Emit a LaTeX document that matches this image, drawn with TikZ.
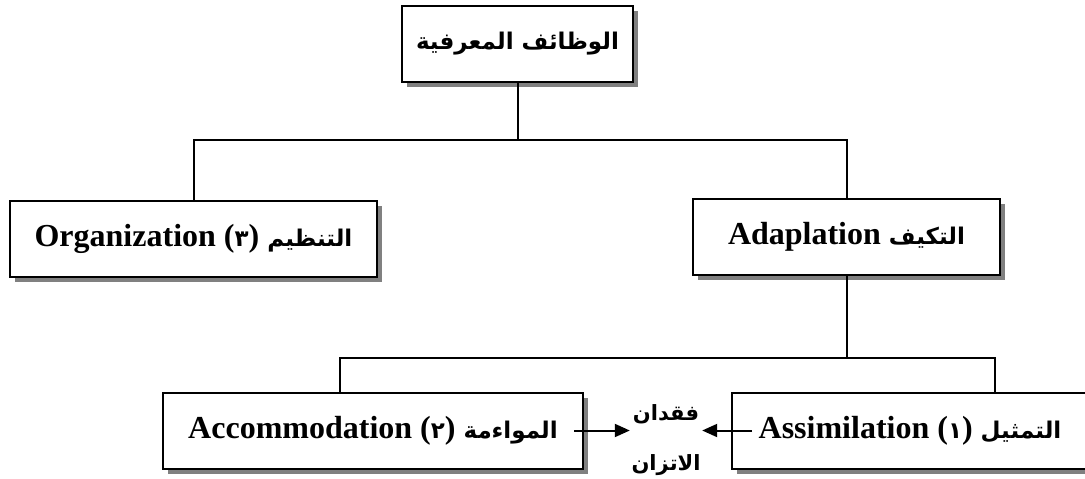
\documentclass[tikz,border=0pt]{standalone}
\usepackage{fontspec}
\setmainfont{Liberation Serif}
\newfontfamily\arabicfont[Script=Arabic]{DejaVu Sans}
\TeXXeTstate=1
\usetikzlibrary{arrows.meta,calc,shadows}
\newcommand{\arb}[1]{{\arabicfont\fontsize{23}{26}\selectfont\beginR #1\endR}}
\newcommand{\arbs}[1]{{\arabicfont\fontsize{21}{24}\selectfont\beginR #1\endR}}
\tikzset{
  box/.style={draw, line width=2pt, fill=white, minimum height=76pt, inner sep=0pt,
    font=\bfseries\fontsize{32}{36}\selectfont,
    drop shadow={shadow xshift=5pt, shadow yshift=-5pt, fill=black!50, opacity=1}},
  link/.style={line width=2pt},
  arr/.style={line width=2pt, -{Triangle[length=15pt,width=13pt]}},
  baltext/.style={font=\bfseries, align=center, inner sep=0pt, minimum width=72pt}
}
\begin{document}
\begin{tikzpicture}[x=1pt,y=-1pt]
\useasboundingbox (0,0) rectangle (1085,479);
\node[box, minimum width=231pt] (top) at (517.5,43.5) {\arb{الوظائف المعرفية}};
\node[box, minimum width=367pt] (org) at (193.5,238.5) {Organization (\arb{٣}) \arb{التنظيم}};
\node[box, minimum width=307pt] (ada) at (846.5,236.5) {Adaplation \arb{التكيف}};
\node[box, minimum width=420pt] (acc) at (373,430.5) {Accommodation (\arb{٢}) \arb{المواءمة}};
\node[box, minimum width=356pt] (ass) at (910,430.5) {Assimilation (\arb{١}) \arb{التمثيل}};
\node[baltext] (bal) at (666,440) {\arbs{فقدان}\\[30pt]\arbs{الاتزان}};
\draw[link] (top.south) -- ++(0,58);
\draw[link] (org.north) -- ++(0,-60) -| (ada.north);
\draw[link] (ada.south) -- ++(0,83);
\draw[link] ($(acc.north)+(-33,0)$) -- ++(0,-34) -| ($(ass.north)+(85,0)$);
\draw[arr] ($(ass.west)+(21,0)$) -- (bal.east |- ass.west);
\draw[arr] ($(acc.east)+(-10,0)$) -- (bal.west |- acc.east);
\end{tikzpicture}
\end{document}
